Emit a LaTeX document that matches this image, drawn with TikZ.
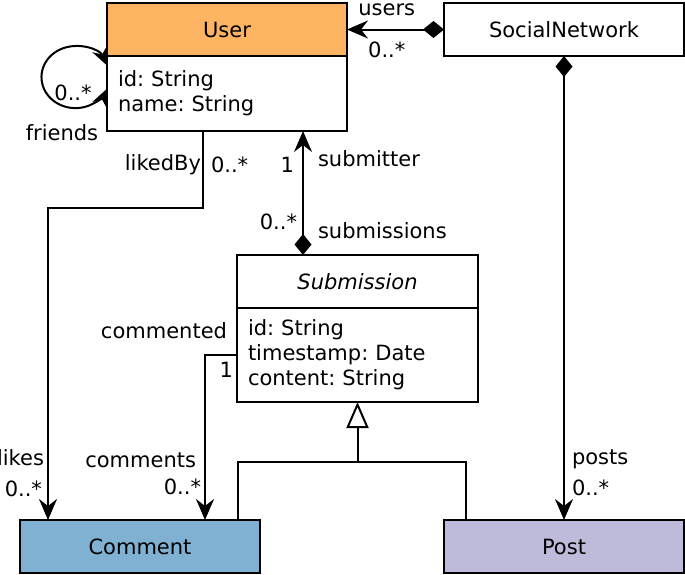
\documentclass[tikz,border=0pt]{standalone}
\usepackage{fontspec}
\setmainfont{DejaVu Sans}
\usetikzlibrary{arrows.meta, positioning}
\definecolor{usercol}{HTML}{FDB462}
\definecolor{commentcol}{HTML}{80B1D3}
\definecolor{postcol}{HTML}{BEBADA}
\tikzset{
  headbox/.style={rectangle, draw, line width=1pt, outer sep=0pt, minimum width=120pt, minimum height=26.5pt, inner sep=2pt},
  bodybox/.style={rectangle, draw, line width=1pt, outer sep=0pt, text width=109pt, inner sep=5.5pt, align=left},
  lbl/.style={inner sep=3.5pt},
  assoc/.style={line width=1pt, -{Stealth[length=10.5pt, width=9pt, inset=3.5pt]}},
  comp/.style={line width=1pt, {Diamond[length=10.5pt, width=8.5pt]}-{Stealth[length=10.5pt, width=9pt, inset=3.5pt]}},
  inherit/.style={line width=1pt, -{Triangle[open, length=13pt, width=11pt]}},
}

\begin{document}
\frenchspacing
\begin{tikzpicture}[x=0.5pt, y=-0.5pt, font=\fontsize{10.5}{12.5}\selectfont]
  \useasboundingbox (0,0) rectangle (685,574);
  % classes
  \node[headbox, fill=usercol] (userhead) at (227,29.5) {User};
  \node[bodybox, minimum height=37.5pt, below=0pt of userhead] (userbody) {id: String\\name: String};
  \node[headbox] (netw) at (564,29.5) {SocialNetwork};
  \node[headbox, minimum width=120.5pt] (subhead) at (357.5,281.5) {\itshape Submission};
  \node[bodybox, text width=109.5pt, minimum height=47pt, below=0pt of subhead] (subbody) {id: String\\timestamp: Date\\content: String};
  \node[headbox, fill=commentcol] (comment) at (140,546.5) {Comment};
  \node[headbox, fill=postcol] (post) at (564,546.5) {Post};
  \coordinate (gen) at ([yshift=-30pt]subbody.south);

  % references
  \draw[comp] (netw.west) -- node[lbl, pos=.59, above=2.75pt]{users} node[lbl, pos=.59, below=2.25pt]{0..*} (userhead.east);
  \draw[comp] (netw.south) -- node[lbl, pos=.87, right]{posts} node[lbl, pos=.93, right]{0..*} (post.north);
  \draw[comp] ([xshift=-27.25pt]subhead.north) -- node[lbl, pos=.78, right=3.5pt]{submitter} node[lbl, pos=.73, left=0.5pt]{1}
    node[lbl, pos=.2, right=3.5pt]{submissions} node[lbl, pos=.27, left=-1pt]{0..*} ([xshift=-27.25pt]subhead.north |- userbody.south);
  \draw[assoc] ([xshift=-12pt]userbody.south) -- node[lbl, pos=.44, left=-3pt]{likedBy} node[lbl, pos=.44, right]{0..*} ++(0,77)
    -| node[lbl, pos=.9, left=-2pt]{likes} node[lbl, pos=.95, left=-1pt]{0..*} ([xshift=-46pt]comment.north);
  \draw[assoc] (subbody.west) -| node[lbl, pos=0, above left=4pt and 1pt]{commented} node[lbl, pos=0, below left=-0.5pt and -2pt]{1}
    node[lbl, pos=.82, left=0.5pt]{comments} node[lbl, pos=.9, left=-2pt]{0..*} ([xshift=32.5pt]comment.north);
  \draw[line width=1pt, {Stealth[length=9pt, width=8pt, inset=3pt]}-{Stealth[length=9pt, width=8pt, inset=3pt]}]
    ([yshift=14pt]userbody.west) arc[start angle=22, end angle=338, x radius=17pt, y radius=15.5pt];
  \node[lbl] (friendsmult) at (73,93) {0..*};
  \node[lbl] (friendsname) at (62,133) {friends};

  % generalization
  \draw[inherit] ([xshift=49pt]comment.north) |- (gen) -- (subbody.south);
  \draw[line width=1pt] ([xshift=-49pt]post.north) |- (gen);
\end{tikzpicture}
\end{document}
